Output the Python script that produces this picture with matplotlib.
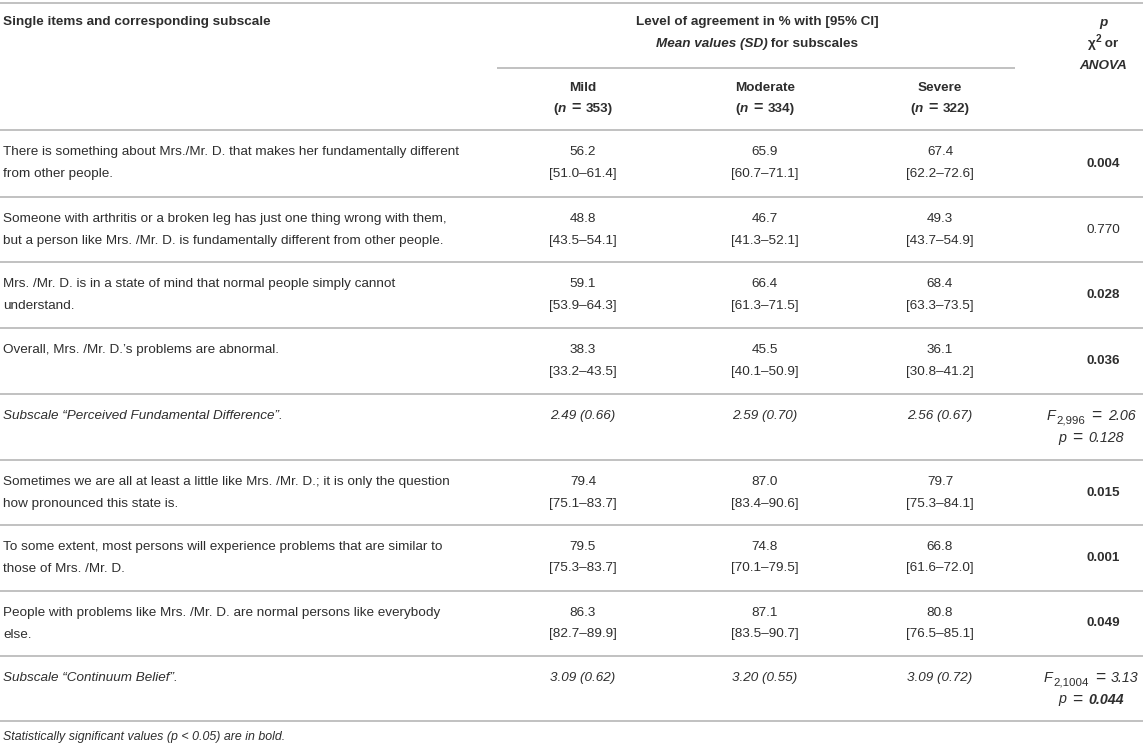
import matplotlib.pyplot as plt

plt.rcParams['font.family'] = ['Liberation Sans', 'DejaVu Sans']

groups = ['Mild', 'Moderate', 'Severe']
group_n = [353, 334, 322]

items = [
    ["There is something about Mrs./Mr. D. that makes her fundamentally different",
     "from other people."],
    ["Someone with arthritis or a broken leg has just one thing wrong with them,",
     "but a person like Mrs. /Mr. D. is fundamentally different from other people."],
    ["Mrs. /Mr. D. is in a state of mind that normal people simply cannot",
     "understand."],
    ["Overall, Mrs. /Mr. D.\u2019s problems are abnormal."],
    ["Subscale \u201cPerceived Fundamental Difference\u201d."],
    ["Sometimes we are all at least a little like Mrs. /Mr. D.; it is only the question",
     "how pronounced this state is."],
    ["To some extent, most persons will experience problems that are similar to",
     "those of Mrs. /Mr. D."],
    ["People with problems like Mrs. /Mr. D. are normal persons like everybody",
     "else."],
    ["Subscale \u201cContinuum Belief\u201d."],
]
is_subscale = [False, False, False, False, True, False, False, False, True]

mild = ["56.2", "48.8", "59.1", "38.3", "2.49 (0.66)", "79.4", "79.5", "86.3", "3.09 (0.62)"]
mild_ci = ["51.0\u201361.4", "43.5\u201354.1", "53.9\u201364.3", "33.2\u201343.5", None,
           "75.1\u201383.7", "75.3\u201383.7", "82.7\u201389.9", None]
moderate = ["65.9", "46.7", "66.4", "45.5", "2.59 (0.70)", "87.0", "74.8", "87.1", "3.20 (0.55)"]
moderate_ci = ["60.7\u201371.1", "41.3\u201352.1", "61.3\u201371.5", "40.1\u201350.9", None,
               "83.4\u201390.6", "70.1\u201379.5", "83.5\u201390.7", None]
severe = ["67.4", "49.3", "68.4", "36.1", "2.56 (0.67)", "79.7", "66.8", "80.8", "3.09 (0.72)"]
severe_ci = ["62.2\u201372.6", "43.7\u201354.9", "63.3\u201373.5", "30.8\u201341.2", None,
             "75.3\u201384.1", "61.6\u201372.0", "76.5\u201385.1", None]
p_vals = ["0.004", "0.770", "0.028", "0.036", None, "0.015", "0.001", "0.049", None]
p_bold = [True, False, True, True, False, True, True, True, False]
anova_df = [None, None, None, None, "2,996", None, None, None, "2,1004"]
anova_f = [None, None, None, None, "2.06", None, None, None, "3.13"]
anova_p = [None, None, None, None, "0.128", None, None, None, "0.044"]
anova_p_bold = [False, False, False, False, False, False, False, False, True]

row_tops = [130, 197, 262, 328, 394, 460, 525, 591, 656, 721]

fig = plt.figure(figsize=(11.43, 7.48), dpi=100)
ax = fig.add_axes([0, 0, 1, 1])
ax.set_xlim(0, 1143)
ax.set_ylim(748, 0)
ax.axis('off')
renderer = fig.canvas.get_renderer()

fs = 9.7
txt = '#2e2e2e'
line_c = '#b0b0b0'
col_x = [583, 765, 940]
p_x = 1103
anova_x = 1091


def pieces(x, y, parts, ha='center'):
    # parts: (string, kwargs, dy) laid out left to right; a number is a gap in pixels
    arts = []
    widths = []
    for p in parts:
        if isinstance(p, (int, float)):
            arts.append(None)
            widths.append(p)
            continue
        s, kw, dy = p
        kw = dict(kw)
        kw.setdefault('fontsize', fs)
        t = ax.text(0, y + dy, s, color=txt, va='baseline', ha='left', **kw)
        widths.append(t.get_window_extent(renderer).width)
        arts.append(t)
    total = sum(widths)
    if ha == 'center':
        cur = x - total / 2
    elif ha == 'right':
        cur = x - total
    else:
        cur = x
    for t, w in zip(arts, widths):
        if t is not None:
            t.set_x(cur)
        cur += w


B = dict(fontweight='bold')
BI = dict(fontweight='bold', style='italic')
mfs = fs * 1.06
MI = dict(style='italic', fontsize=mfs)
MBI = dict(fontweight='bold', style='italic', fontsize=mfs)
EQ = dict(fontsize=fs * 1.3)

# rules
for y in [3] + row_tops:
    ax.plot([0, 1143], [y, y], color=line_c, lw=1.1, solid_capstyle='butt')
ax.plot([497, 1015], [68, 68], color=line_c, lw=1.1, solid_capstyle='butt')

# header
ax.text(3, 22, "Single items and corresponding subscale", fontsize=fs, fontweight='bold',
        color=txt, va='center', ha='left')
ax.text(757, 22, "Level of agreement in % with [95% CI]", fontsize=fs, fontweight='bold',
        color=txt, va='center', ha='center')
pieces(757, 47, [("Mean values (SD)", BI, 0), (" for subscales", B, 0)])
pieces(p_x, 26, [("p", BI, 0)])
pieces(p_x, 47, [("\u03c7", B, 0), ("2", dict(fontweight='bold', fontsize=fs * 0.75), -5),
                 (" or", B, 0)])
pieces(p_x, 69, [("ANOVA", BI, 0)])
for x, g, n in zip(col_x, groups, group_n):
    ax.text(x, 88, g, fontsize=fs, fontweight='bold', color=txt, va='center', ha='center')
    pieces(x, 112, [("(", B, 0), ("n", BI, 0), 5, ("=", dict(fontweight='bold', fontsize=fs * 1.2), 0),
                    5, ("%d)" % n, B, 0)])

# body
for i in range(len(items)):
    top = row_tops[i]
    y1 = top + 22
    y2 = top + 43.5
    mid = (top + row_tops[i + 1]) / 2
    sty = 'italic' if is_subscale[i] else 'normal'
    for k, ln in enumerate(items[i]):
        ax.text(3, y1 + 21.5 * k, ln, fontsize=fs, style=sty, color=txt, va='center', ha='left')
    for x, v, ci in zip(col_x, [mild[i], moderate[i], severe[i]],
                        [mild_ci[i], moderate_ci[i], severe_ci[i]]):
        ax.text(x, y1, v, fontsize=fs, style=sty, color=txt, va='center', ha='center')
        if ci is not None:
            ax.text(x, y2, "[" + ci + "]", fontsize=fs, color=txt, va='center', ha='center')
    if p_vals[i] is not None:
        ax.text(p_x, mid, p_vals[i], fontsize=fs, color=txt, va='center', ha='center',
                fontweight='bold' if p_bold[i] else 'normal')
    if anova_f[i] is not None:
        pieces(anova_x, y1 + 4, [("F", MI, 0), 1, (anova_df[i], dict(fontsize=fs * 0.85), 3.5),
                                 6, ("=", EQ, 0), 6, (anova_f[i], MI, 0)])
        pieces(anova_x, y2 + 4, [("p", MI, 0), 6, ("=", EQ, 0), 6,
                                 (anova_p[i], MBI if anova_p_bold[i] else MI, 0)])

ax.text(3, 737, "Statistically significant values (p < 0.05) are in bold.", fontsize=fs * 0.92,
        style='italic', color=txt, va='center', ha='left')

fig.savefig('out.png', dpi=100, facecolor='white')
